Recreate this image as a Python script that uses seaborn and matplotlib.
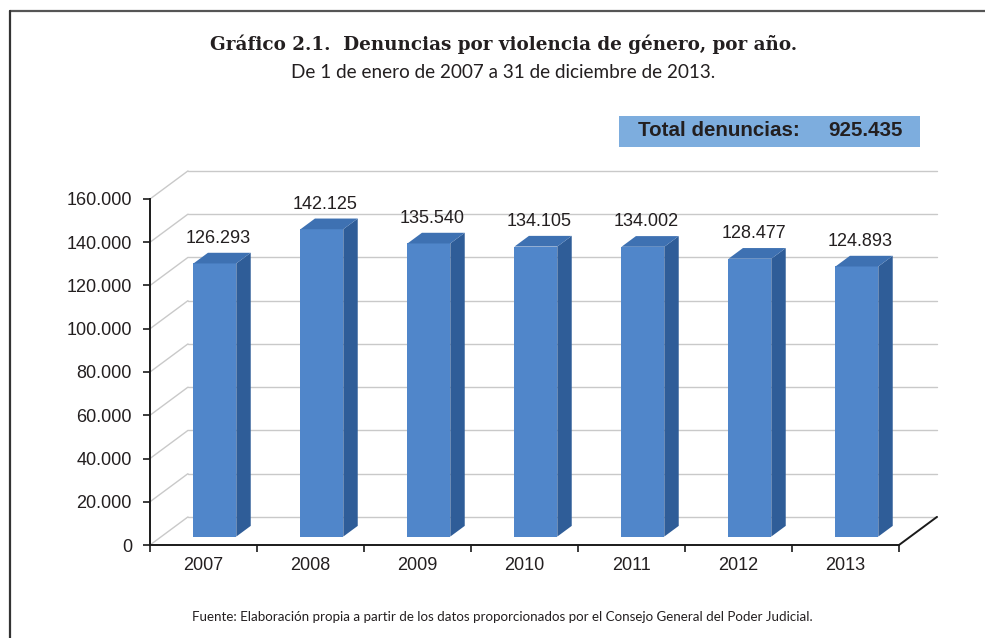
import matplotlib
matplotlib.use("Agg")
import matplotlib.pyplot as plt
from matplotlib.patches import Polygon, Rectangle
from matplotlib.lines import Line2D
import seaborn as sns

# data
YEARS = ["2007", "2008", "2009", "2010", "2011", "2012", "2013"]
DENUNCIAS = [126293, 142125, 135540, 134105, 134002, 128477, 124893]
TOTAL = 925435
Y_TICKS = [0, 20000, 40000, 60000, 80000, 100000, 120000, 140000, 160000]

TITLE = "Gráfico 2.1.  Denuncias por violencia de género, por año."
SUBTITLE = "De 1 de enero de 2007 a 31 de diciembre de 2013."
SOURCE = ("Fuente: Elaboración propia a partir de los datos proporcionados "
          "por el Consejo General del Poder Judicial.")

# 3d look
DX = 0.355      # depth, in category units
DY = 13000      # depth, in value units
FRONT_AT = 0.30  # where the bar front sits inside the depth
BAR_DEPTH = 0.38
BAR_W = 0.40
FRONT = "#5086CA"
SIDE = "#2F5D98"
TOP = "#3E71B2"
GRID = "#C9C9C9"
TXT = "#231F20"


def fmt(v):
    return f"{v:,.0f}".replace(",", ".")


sns.set_style("white")
plt.rcParams["font.family"] = ["Liberation Sans", "DejaVu Sans"]

fig = plt.figure(figsize=(9.85, 6.38), dpi=100)
ax = fig.add_axes([150 / 985, 93 / 638, 749 / 985, 346 / 638])

sns.barplot(x=YEARS, y=DENUNCIAS, color=FRONT, saturation=1, width=BAR_W,
            ax=ax, zorder=3, linewidth=0)
ax.set_xlim(-0.5, len(YEARS) - 0.5)
ax.set_ylim(0, Y_TICKS[-1])

# back wall and left wall grid
x_left, x_right = -0.5, len(YEARS) - 0.5
for v in Y_TICKS:
    ax.plot([x_left, x_left + DX], [v, v + DY], color=GRID, lw=1,
            clip_on=False, zorder=0.5)
    ax.plot([x_left + DX, x_right + DX], [v + DY, v + DY], color=GRID, lw=1,
            clip_on=False, zorder=0.5)
# right floor edge
ax.plot([x_right, x_right + DX], [0, DY], color="#1a1a1a", lw=1.4,
        clip_on=False, zorder=2)

# shift front faces into the depth and add side / top faces
fx, fy = FRONT_AT * DX, FRONT_AT * DY
bx, by = BAR_DEPTH * DX, BAR_DEPTH * DY
for p, val in zip(ax.patches, DENUNCIAS):
    x0 = p.get_x() + fx
    w = p.get_width()
    p.set_x(x0)
    p.set_y(fy)
    x1 = x0 + w
    y0, y1 = fy, fy + p.get_height()
    side = Polygon([(x1, y0), (x1, y1), (x1 + bx, y1 + by), (x1 + bx, y0 + by)],
                   closed=True, facecolor=SIDE, edgecolor="none", zorder=3,
                   clip_on=False)
    top = Polygon([(x0, y1), (x1, y1), (x1 + bx, y1 + by), (x0 + bx, y1 + by)],
                  closed=True, facecolor=TOP, edgecolor="none", zorder=3,
                  clip_on=False)
    ax.add_patch(side)
    ax.add_patch(top)
    ax.annotate(fmt(val), (x0 + w / 2 + bx * 0.25, y1), xytext=(0, 18),
                textcoords="offset points", ha="center", va="center",
                fontsize=13, color=TXT, annotation_clip=False)

# axes
sns.despine(ax=ax)
for s in ["left", "bottom"]:
    ax.spines[s].set_color("#1a1a1a")
    ax.spines[s].set_linewidth(1.4)
ax.set_yticks(Y_TICKS)
ax.set_yticklabels([fmt(v) for v in Y_TICKS])
ax.set_xticks(range(len(YEARS)))
ax.set_xticklabels(YEARS)
ax.set_xticks([i - 0.5 for i in range(len(YEARS) + 1)], minor=True)
ax.tick_params(axis="y", which="major", length=5, width=1.2, pad=8,
               labelsize=13, labelcolor=TXT, color="#1a1a1a", left=True)
ax.tick_params(axis="x", which="major", length=0, pad=9, labelsize=13,
               labelcolor=TXT)
ax.tick_params(axis="x", which="minor", length=5, width=1.2, bottom=True,
               color="#1a1a1a")
ax.set_xlabel("")
ax.set_ylabel("")
ax.grid(False)
ax.patch.set_alpha(0)

# titles, total box and source
fig.text(504 / 985, 1 - 44 / 638, TITLE, ha="center", va="center",
         fontsize=13.2, fontweight="bold", family=["DejaVu Serif"], color=TXT)
fig.text(503 / 985, 1 - 72 / 638, SUBTITLE, ha="center", va="center",
         fontsize=13.6, family=["Lato", "DejaVu Sans"], color=TXT)
fig.add_artist(Rectangle((619 / 985, 1 - 147 / 638), 301 / 985, 31 / 638,
                         transform=fig.transFigure, facecolor="#7DADDE",
                         edgecolor="none"))
fig.text(638 / 985, 1 - 131 / 638, "Total denuncias:", ha="left", va="center",
         fontsize=14.8, fontweight="bold", color=TXT)
fig.text(903 / 985, 1 - 131 / 638, fmt(TOTAL), ha="right", va="center",
         fontsize=14.8, fontweight="bold", color=TXT)
fig.text(502 / 985, 1 - 617 / 638, SOURCE, ha="center", va="center",
         fontsize=9.6, family=["Lato", "DejaVu Sans"], color=TXT)

# page frame
fig.add_artist(Line2D([10 / 985, 1], [1 - 11 / 638, 1 - 11 / 638],
                      transform=fig.transFigure, color="#555555", lw=1.6))
fig.add_artist(Line2D([10 / 985, 10 / 985], [0, 1 - 11 / 638],
                      transform=fig.transFigure, color="#333333", lw=1.6))

fig.savefig("out.png", dpi=100)
